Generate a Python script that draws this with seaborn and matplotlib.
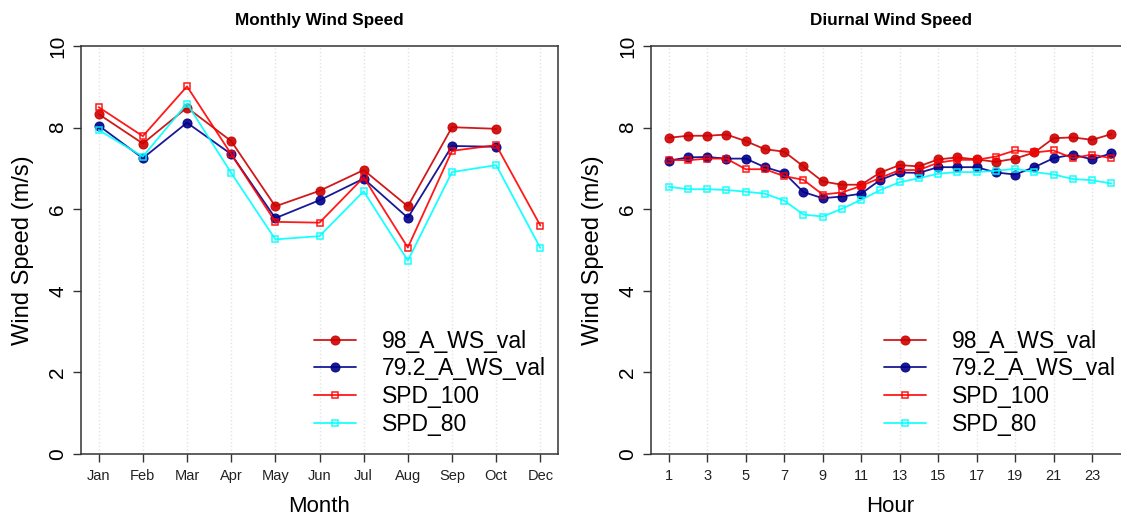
import numpy as np
import pandas as pd
import matplotlib
matplotlib.use("Agg")
import matplotlib.pyplot as plt
import seaborn as sns

# ---------------- data ----------------
months = ['Jan', 'Feb', 'Mar', 'Apr', 'May', 'Jun', 'Jul', 'Aug', 'Sep', 'Oct', 'Dec']
m_98 = [8.33, 7.61, 8.49, 7.67, 6.07, 6.45, 6.96, 6.07, 8.01, 7.97, np.nan]
m_79 = [8.05, 7.25, 8.12, 7.35, 5.78, 6.22, 6.75, 5.79, 7.55, 7.53, np.nan]
m_100 = [8.50, 7.79, 9.01, 7.35, 5.69, 5.67, 6.78, 5.06, 7.43, 7.57, 5.60]
m_80 = [7.94, 7.29, 8.59, 6.89, 5.26, 5.34, 6.44, 4.74, 6.91, 7.08, 5.05]

hours = list(range(1, 25))
d_98 = [7.75, 7.80, 7.80, 7.83, 7.67, 7.47, 7.41, 7.05, 6.68, 6.60, 6.60, 6.90,
        7.08, 7.05, 7.22, 7.27, 7.22, 7.16, 7.24, 7.39, 7.74, 7.76, 7.70, 7.84]
d_79 = [7.19, 7.27, 7.28, 7.24, 7.24, 7.03, 6.89, 6.42, 6.27, 6.31, 6.38, 6.72,
        6.90, 6.89, 7.03, 7.03, 7.03, 6.90, 6.85, 7.03, 7.25, 7.34, 7.22, 7.37]
d_100 = [7.21, 7.20, 7.24, 7.24, 6.98, 6.98, 6.81, 6.72, 6.36, 6.41, 6.57, 6.77,
         6.96, 6.96, 7.14, 7.21, 7.21, 7.29, 7.44, 7.39, 7.44, 7.25, 7.34, 7.25]
d_80 = [6.55, 6.49, 6.49, 6.47, 6.43, 6.38, 6.21, 5.87, 5.82, 6.01, 6.23, 6.47,
        6.66, 6.76, 6.87, 6.91, 6.91, 6.94, 6.99, 6.91, 6.85, 6.74, 6.71, 6.63]

series_names = ['98_A_WS_val', '79.2_A_WS_val', 'SPD_100', 'SPD_80']
colors = ['#CD0000', '#00008B', '#FF0000', '#00FFFF']
filled = [True, True, False, False]

# ---------------- style ----------------
sns.set_theme(style="ticks")
plt.rcParams['font.family'] = ['Liberation Sans', 'DejaVu Sans']
plt.rcParams['axes.edgecolor'] = '#333333'
plt.rcParams['text.color'] = 'black'
plt.rcParams['axes.labelcolor'] = 'black'
plt.rcParams['ytick.labelcolor'] = 'black'
plt.rcParams['xtick.labelcolor'] = '#222222'

fig = plt.figure(figsize=(11.21, 5.19), dpi=100)
W, H = 1121, 519


def ax_rect(l, r, t, b):
    return [l / W, 1 - b / H, (r - l) / W, (b - t) / H]


ax1 = fig.add_axes(ax_rect(81, 558, 46, 454))
ax2 = fig.add_axes(ax_rect(651, 1129, 46, 454))


def draw(ax, x, ys, size_circle, size_sq):
    for name, y, c, f in zip(series_names, ys, colors, filled):
        df = pd.DataFrame({'x': x, 'y': y}).dropna()
        if f:
            sns.lineplot(data=df, x='x', y='y', ax=ax, color=c, lw=1.3,
                         marker='o', markersize=size_circle, markeredgecolor=c,
                         markerfacecolor=c, label=name, alpha=0.9)
        else:
            sns.lineplot(data=df, x='x', y='y', ax=ax, color=c, lw=1.3,
                         marker='s', markersize=size_sq, markeredgecolor=c,
                         markerfacecolor='none', markeredgewidth=1.1,
                         label=name, alpha=0.9)


mpos = np.arange(1, len(months) + 1)
draw(ax1, mpos, [m_98, m_79, m_100, m_80], 6.5, 5)
draw(ax2, np.array(hours), [d_98, d_79, d_100, d_80], 6.5, 5)

for ax in (ax1, ax2):
    ax.set_ylim(0, 10)
    ax.set_yticks([0, 2, 4, 6, 8, 10])
    ax.set_yticklabels(['0', '2', '4', '6', '8', '10'], rotation=90,
                       va='center', fontsize=15)
    ax.set_ylabel('Wind Speed (m/s)', fontsize=17, labelpad=10)
    ax.tick_params(axis='both', direction='out', length=6, width=1,
                   color='#333333', pad=4)
    ax.tick_params(axis='x', labelsize=10.5, pad=5)
    for s in ax.spines.values():
        s.set_linewidth(1.1)
        s.set_visible(True)
    ax.grid(axis='x', color='#e3e3e3', linestyle=':', linewidth=1)
    ax.grid(axis='y', visible=False)
    ax.set_axisbelow(True)

ax1.set_xlim(0.6, len(months) + 0.4)
ax1.set_xticks(mpos)
ax1.set_xticklabels(months)
ax1.set_xlabel('Month', fontsize=16, labelpad=9)
ax1.set_title('Monthly Wind Speed', fontsize=12.3, fontweight='bold', pad=15)

ax2.set_xlim(0.08, 24.92)
ax2.set_xticks(hours[::2])
ax2.set_xticklabels([str(h) for h in hours[::2]])
ax2.set_xlabel('Hour', fontsize=16, labelpad=9)
ax2.set_title('Diurnal Wind Speed', fontsize=12.3, fontweight='bold', pad=15,
              x=(1121 - 651) / 2 / 478 + 0.01)

for ax, anchor in ((ax1, 1.013), (ax2, 1.011)):
    ax.legend(loc='lower right', bbox_to_anchor=(anchor, 0.0), frameon=False,
              fontsize=16.5, handlelength=1.8, handletextpad=1.15,
              labelspacing=0.2, borderaxespad=0.4)

fig.savefig('out.png', dpi=100)
